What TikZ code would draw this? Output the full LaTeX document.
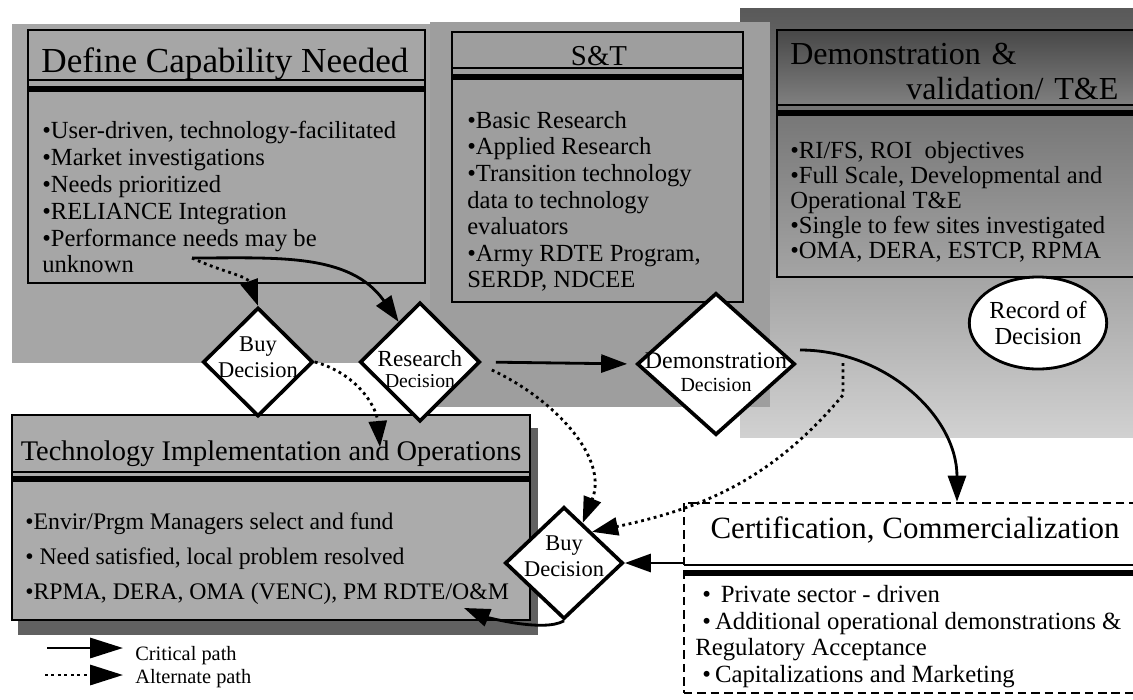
\documentclass[tikz,border=0pt]{standalone}
\usepackage{fontspec}
\setmainfont{Liberation Serif}
\usetikzlibrary{arrows.meta,positioning,fit,shapes.geometric}

\newcommand{\fsz}[2]{\fontsize{#1}{#2}\selectfont}

\begin{document}
\begin{tikzpicture}[x=0.025cm, y=-0.025cm,
frame/.style={rectangle, draw=black, line width=2pt, inner sep=0pt},
thinrule/.style={line width=1.4pt},
thickrule/.style={line width=3.6pt},
heading/.style={anchor=base, inner sep=0pt},
bullets/.style={anchor=north west, inner sep=0pt, align=left},
decision/.style={diamond, draw=black, line width=2.6pt, fill=white, inner sep=0pt},
crit/.style={-{Triangle[length=0.65cm, width=0.45cm]}, line width=2pt},
alt/.style={crit, dash pattern=on 2pt off 2.6pt},
bigtip/.style={-{Triangle[length=0.82cm, width=0.5cm]}},
]

\useasboundingbox (0,0) rectangle (1133,699);

% grey panels behind the boxes
\shade[top color=black!65, bottom color=black!18] (740,8) rectangle (1133,437);
\fill[black!35] (12,24) rectangle (432,363);
\fill[black!38] (430,22) rectangle (770,407);
\fill[black!62] (18,428) rectangle (538,635);
\fill[black!33] (12,415) rectangle (530,620);
\shade[top color=black!72, bottom color=black!50] (777,30) rectangle (1133,105);

\node[frame, fit={(28,30) (425,283)}] (define) {};
\node[frame, fit={(452,32) (743,302)}] (sandt) {};
\node[frame, fit={(777,30) (1180,277)}] (demoval) {};
\node[frame, fit={(12,415) (530,620)}] (tech) {};
\node[frame, dashed, dash pattern=on 6pt off 3.5pt, line width=1.8pt, fill=white,
fit={(684,503) (1230,693)}] (cert) {};

\draw[thinrule] (28,80) -- (425,80);
\draw[thickrule] (28,89) -- (425,89);
\draw[thinrule] (452,68) -- (743,68);
\draw[thickrule] (452,77) -- (743,77);
\draw[thinrule] (777,105) -- (1133,105);
\draw[thickrule] (777,113) -- (1133,113);
\draw[thinrule] (12,472) -- (530,472);
\draw[thickrule] (12,479) -- (530,479);
\draw[thinrule] (684,565) -- (1133,565);
\draw[thickrule] (684,573) -- (1133,573);

\node[heading, font=\fsz{25}{28}] at (225,72) (definetitle) {Define Capability Needed};
\node[bullets, font=\fsz{17.5}{19.1}] at (42,121) (definetext) {%
\textbullet User-driven, technology-facilitated\\
\textbullet Market investigations\\
\textbullet Needs prioritized\\
\textbullet RELIANCE Integration\\
\textbullet Performance needs may be\\
unknown};

\node[heading, font=\fsz{20.5}{24}] at (599,65) (sandttitle) {S\&T};
\node[bullets, font=\fsz{17.5}{18.9}] at (467,111) (sandttext) {%
\textbullet Basic Research\\
\textbullet Applied Research\\
\textbullet Transition technology\\
data to technology\\
evaluators\\
\textbullet Army RDTE Program,\\
SERDP, NDCEE};

\node[bullets, text width=8.2cm, font=\fsz{22.8}{25}] at (790,43) (demovaltitle) {%
Demonstration \&\\
\hspace*{\fill}validation/ T\&E};
\node[bullets, font=\fsz{17.5}{17.8}] at (790,141) (demovaltext) {%
\textbullet RI/FS, ROI~ objectives\\
\textbullet Full Scale, Developmental and\\
Operational T\&E\\
\textbullet Single to few sites investigated\\
\textbullet OMA, DERA, ESTCP, RPMA};

\node[heading, font=\fsz{20.2}{24}] at (271,460) (techtitle) {Technology Implementation and Operations};
\node[bullets, font=\fsz{16.9}{24.9}] at (25,512) (techtext) {%
\textbullet Envir/Prgm Managers select and fund\\
\textbullet\ Need satisfied, local problem resolved\\
\textbullet RPMA, DERA, OMA (VENC), PM RDTE/O\&M};

\node[heading, font=\fsz{22}{26}] at (915,538) (certtitle) {Certification, Commercialization};
\node[bullets, font=\fsz{17.6}{19}] at (695,585) (certtext) {%
\hspace*{5pt}\textbullet\hspace*{7pt}Private sector - driven\\
\hspace*{5pt}\textbullet\,Additional operational demonstrations \&\\
Regulatory Acceptance\\
\hspace*{5pt}\textbullet\,Capitalizations and Marketing};

\node[ellipse, draw=black, line width=2pt, fill=white, inner sep=0pt,
minimum width=3.38cm, minimum height=2.3cm, align=center,
font=\fsz{17.4}{19}] at (1038,323) (record) {Record of\\Decision};

\node[decision, minimum width=2.75cm, minimum height=2.72cm,
label={[align=center, yshift=0.12cm, font=\fsz{16}{18}]center:Buy\\[1pt]Decision}] at (258,362) (buytop) {};
\node[decision, minimum width=3.0cm, minimum height=2.98cm,
label={[align=center, yshift=-0.18cm]center:{\fsz{16.4}{17}Research}\\[3pt]{\fsz{14}{16}Decision}}] at (420,362) (research) {};
\node[decision, minimum width=3.95cm, minimum height=3.55cm,
label={[align=center, yshift=-0.2cm]center:{\fsz{17}{18}Demonstration}\\[4pt]{\fsz{14.2}{17}Decision}}] at (716,364) (demo) {};
\node[decision, minimum width=2.95cm, minimum height=2.8cm,
label={[align=center, yshift=0.17cm, font=\fsz{16}{18}]center:Buy\\[1pt]Decision}] at (564,563) (buybot) {};

\coordinate (unk) at (192,258);
\coordinate (techin) at (380,447);
\coordinate (techret) at (464,608);
\coordinate (altstart) at (843,363);
\coordinate (demoright) at (800,350);

\draw[crit] (unk) to[out=0, in=125] (research.118);
\draw[alt] (unk) to[out=-25, in=110] (buytop.north);
\draw[alt] (buytop.east) to[out=-15, in=95] (techin);
\draw[crit, shorten <=0.35cm, shorten >=0.2cm] (research.east) -- (demo.west);
\draw[alt] ([xshift=0.25cm, yshift=-0.2cm]research.east) to[out=-25, in=68] (buybot.65);
\draw[alt] (altstart) -- ++(0,32) to[out=-130, in=12] (buybot.48);
\draw[crit] (demoright) to[out=0, in=90] (cert.north);
\draw[crit] (cert.west |- buybot.east) -- (buybot.east);
\draw[crit] (buybot.south) to[out=-150, in=-22, looseness=0.6] (techret);

% legend
\coordinate (critfrom) at (47,648);
\coordinate (critto) at (123,648);
\coordinate (altfrom) at (45,675);
\coordinate (altto) at (123,675);
\draw[crit, bigtip] (critfrom) -- (critto);
\draw[alt, bigtip] (altfrom) -- (altto);
\node[anchor=base west, inner sep=0pt, font=\fsz{14.5}{16}] at (135,660) (critlabel) {Critical path};
\node[anchor=base west, inner sep=0pt, font=\fsz{14.5}{16}] at (135,683) (altlabel) {Alternate path};

\end{tikzpicture}
\end{document}
